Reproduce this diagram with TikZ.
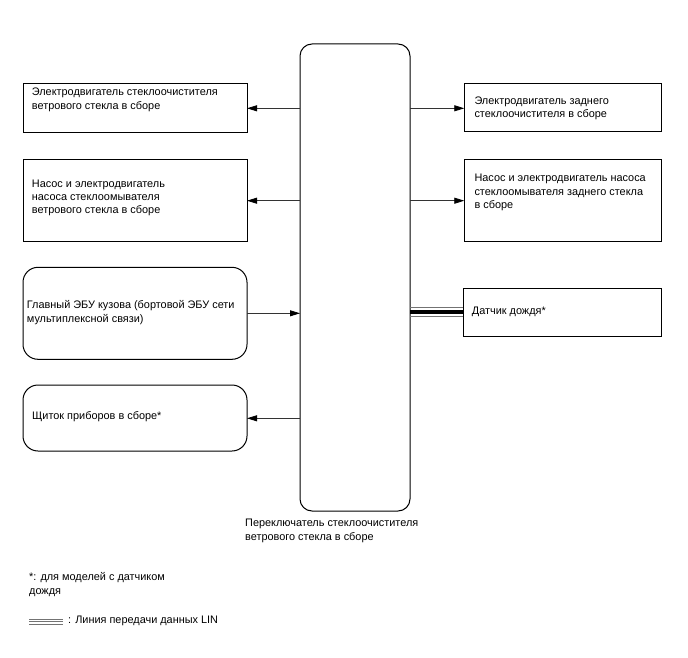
\documentclass[tikz,border=0pt]{standalone}
\usepackage{fontspec}
\setmainfont{Liberation Sans}
\usetikzlibrary{arrows.meta}
\begin{document}
\begin{tikzpicture}[x=1pt,y=-1pt,
  box/.style={draw=black,line width=1pt,inner sep=0pt,outer sep=0pt,anchor=north west,minimum width=224pt},
  rbox/.style={box,minimum width=197.4pt},
  rnd/.style={rounded corners=15pt},
  txt/.style={inner sep=0pt,anchor=west,align=left,font=\fontsize{10.9}{13.3}\selectfont},
  conn/.style={draw=black!80,line width=0.8pt,-{Triangle[length=10pt,width=6pt,fill=black,color=black]}},
  lingray/.style={draw=black!55,line width=0.9pt}]
\useasboundingbox (0,0) rectangle (688,658);
% central switch
\node[draw=black,line width=1pt,rounded corners=12pt,inner sep=0pt,outer sep=0pt,anchor=north west,minimum width=110pt,minimum height=467pt] (sw) at (300,44) {};
\node[txt,anchor=north west] (swt) at (245,519) {Переключатель стеклоочистителя\\ветрового стекла в сборе};
% left boxes
\node[box,minimum height=49.4pt] (l1) at (23,83.3) {};
\node[txt] (l1t) at (31.7,99.7) {Электродвигатель стеклоочистителя\\ветрового стекла в сборе};
\node[box,minimum height=81.7pt] (l2) at (23,160) {};
\node[txt] (l2t) at (31.7,197.8) {Насос и электродвигатель\\насоса стеклоомывателя\\ветрового стекла в сборе};
\node[box,rnd,minimum height=92pt] (l3) at (23,267.3) {};
\node[txt] (l3t) at (26.7,312.5) {Главный ЭБУ кузова (бортовой ЭБУ сети\\мультиплексной связи)};
\node[box,rnd,minimum height=66pt] (l4) at (23,385) {};
\node[txt] (l4t) at (32,416.7) {Щиток приборов в сборе*};
% right boxes
\node[rbox,minimum height=48.4pt] (r1) at (464.3,83.3) {};
\node[txt] (r1t) at (474.3,108.3) {Электродвигатель заднего\\стеклоочистителя в сборе};
\node[rbox,minimum height=81.7pt] (r2) at (464.3,160) {};
\node[txt] (r2t) at (474.3,192.5) {Насос и электродвигатель насоса\\стеклоомывателя заднего стекла\\в сборе};
\node[rbox,minimum width=198.4pt,minimum height=48.4pt] (r3) at (463.3,288.3) {};
\node[txt] (r3t) at (471.7,311.7) {Датчик дождя*};
% connectors
\draw[conn] (sw.west |- 0,108.3) -- (l1.east |- 0,108.3);
\draw[conn] (sw.west |- 0,200.7) -- (l2.east |- 0,200.7);
\draw[conn] (l3.east |- 0,313.3) -- (sw.west |- 0,313.3);
\draw[conn] (sw.west |- 0,418.3) -- (l4.east |- 0,418.3);
\draw[conn] (sw.east |- 0,108.3) -- (r1.west |- 0,108.3);
\draw[conn] (sw.east |- 0,200.7) -- (r2.west |- 0,200.7);
% LIN line
\draw[lingray] (sw.east |- 0,307.6) -- (r3.west |- 0,307.6);
\draw[lingray] (sw.east |- 0,316) -- (r3.west |- 0,316);
\draw[black,line width=4.5pt] (sw.east |- 0,311.8) -- (r3.west |- 0,311.8);
% legend
\node[txt,anchor=north west] (fn) at (29,572.5) {*: для моделей с датчиком\\дождя};
\coordinate (lg1) at (29,619.3);
\coordinate (lg2) at (63,619.3);
\draw[lingray,line width=1.1pt] (lg1) -- (lg2);
\draw[lingray,line width=1.1pt] ([yshift=-2.6pt]lg1) -- ([yshift=-2.6pt]lg2);
\draw[lingray,line width=1.1pt] ([yshift=-5.2pt]lg1) -- ([yshift=-5.2pt]lg2);
\node[txt] (lgt) at (68,620.5) {: Линия передачи данных LIN};
\end{tikzpicture}
\end{document}
